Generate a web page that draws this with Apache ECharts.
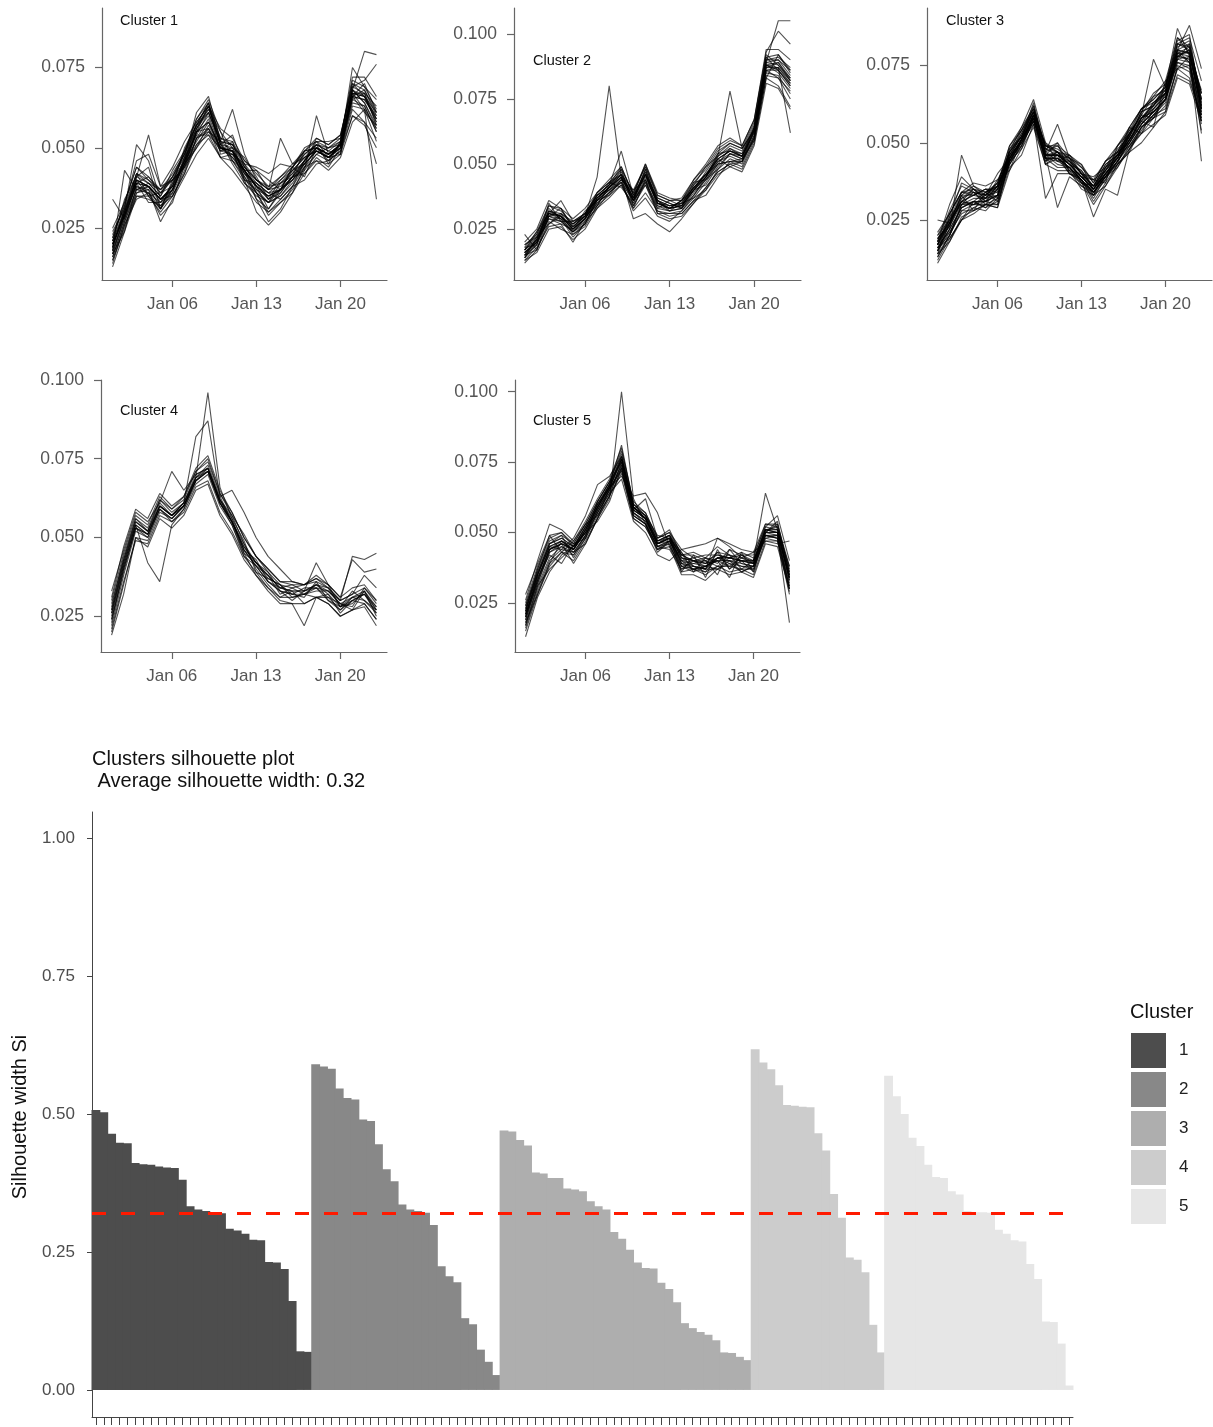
<!DOCTYPE html>
<html><head><meta charset="utf-8">
<script src="https://cdn.jsdelivr.net/npm/echarts@6/dist/echarts.min.js"></script>
<style>html,body{margin:0;padding:0;background:#fff}#chart{width:1213px;height:1427px}</style>
</head><body><div id="chart"></div>
<script>
// ---------- data ----------
const days = [1,2,3,4,5,6,7,8,9,10,11,12,13,14,15,16,17,18,19,20,21,22,23];
const dateTickDays = [6, 13, 20];
const dateTickLabels = ['Jan 06', 'Jan 13', 'Jan 20'];

const cluster1 = [
[.020,.030,.040,.035,.031,.039,.049,.057,.064,.052,.049,.043,.036,.033,.037,.044,.049,.050,.046,.052,.070,.068,.060],
[.016,.027,.036,.038,.034,.035,.042,.053,.055,.049,.052,.040,.039,.036,.034,.038,.046,.051,.049,.048,.066,.061,.057],
[.022,.033,.044,.040,.037,.042,.048,.059,.065,.055,.050,.047,.041,.034,.040,.043,.045,.053,.051,.054,.069,.067,.063],
[.014,.026,.034,.036,.029,.033,.045,.051,.054,.047,.048,.043,.034,.031,.036,.041,.042,.047,.044,.050,.064,.063,.055],
[.034,.028,.039,.041,.036,.040,.044,.050,.055,.052,.045,.039,.036,.030,.033,.036,.044,.046,.043,.047,.058,.062,.052],
[.018,.043,.037,.038,.033,.036,.047,.056,.063,.051,.054,.044,.040,.038,.039,.043,.047,.049,.047,.051,.067,.066,.058],
[.019,.031,.051,.046,.034,.037,.046,.055,.058,.050,.047,.042,.038,.034,.036,.041,.045,.049,.047,.050,.068,.064,.056],
[.021,.030,.041,.054,.038,.040,.044,.053,.059,.049,.048,.045,.037,.035,.037,.040,.046,.052,.047,.051,.066,.070,.061],
[.017,.024,.038,.037,.027,.034,.041,.048,.053,.047,.043,.038,.033,.030,.034,.038,.040,.045,.046,.049,.060,.058,.053],
[.023,.032,.046,.048,.038,.044,.052,.058,.063,.056,.053,.046,.043,.037,.041,.044,.050,.052,.052,.053,.071,.069,.065],
[.015,.026,.035,.034,.032,.035,.043,.053,.056,.049,.050,.043,.038,.036,.037,.040,.044,.050,.047,.050,.065,.067,.057],
[.020,.029,.039,.038,.034,.038,.047,.061,.066,.052,.062,.048,.040,.037,.038,.042,.046,.050,.048,.051,.068,.066,.059],
[.018,.028,.037,.039,.035,.043,.049,.057,.062,.053,.051,.045,.044,.042,.045,.044,.048,.051,.050,.052,.066,.065,.060],
[.024,.031,.042,.039,.037,.040,.046,.052,.058,.050,.049,.044,.040,.037,.053,.045,.047,.049,.047,.050,.063,.062,.056],
[.016,.027,.037,.036,.031,.036,.044,.055,.063,.051,.046,.041,.036,.029,.033,.037,.043,.060,.048,.050,.067,.066,.058],
[.019,.030,.042,.035,.036,.038,.050,.057,.064,.048,.049,.039,.035,.033,.039,.041,.043,.048,.050,.051,.075,.069,.062],
[.021,.034,.041,.039,.035,.041,.047,.054,.061,.051,.047,.043,.038,.031,.037,.043,.047,.051,.045,.052,.068,.080,.079],
[.017,.028,.039,.033,.033,.039,.045,.055,.058,.050,.049,.040,.037,.033,.035,.040,.045,.049,.047,.048,.069,.071,.076],
[.020,.029,.039,.038,.031,.037,.046,.058,.063,.051,.050,.042,.039,.034,.037,.041,.049,.050,.048,.051,.067,.062,.034],
[.015,.025,.036,.037,.032,.037,.045,.054,.054,.050,.048,.041,.034,.027,.031,.038,.044,.048,.046,.049,.062,.058,.045],
[.022,.032,.042,.040,.036,.041,.049,.059,.064,.053,.052,.045,.040,.037,.040,.044,.049,.052,.050,.053,.072,.072,.066],
[.018,.029,.040,.038,.034,.037,.045,.050,.057,.050,.049,.042,.036,.033,.035,.039,.045,.049,.047,.051,.065,.063,.055],
[.013,.024,.035,.035,.030,.035,.042,.051,.056,.047,.046,.040,.030,.026,.030,.036,.042,.046,.045,.048,.060,.057,.050],
[.025,.033,.044,.041,.037,.041,.048,.057,.061,.052,.051,.046,.042,.038,.041,.045,.049,.053,.051,.054,.070,.066,.061],
[.019,.030,.040,.038,.034,.038,.046,.056,.062,.055,.046,.043,.038,.035,.037,.041,.046,.050,.048,.051,.067,.067,.059],
[.020,.029,.038,.036,.033,.037,.045,.055,.056,.050,.049,.043,.038,.035,.037,.044,.041,.050,.048,.051,.066,.065,.059],
[.017,.029,.041,.044,.031,.040,.048,.056,.061,.052,.051,.044,.039,.036,.039,.042,.048,.051,.049,.052,.068,.064,.057],
[.021,.031,.040,.038,.034,.038,.046,.055,.060,.050,.049,.043,.043,.040,.037,.041,.046,.050,.048,.051,.066,.068,.061]
];

const cluster2 = [
[.016,.020,.031,.030,.025,.029,.037,.041,.045,.036,.048,.035,.034,.034,.041,.045,.052,.055,.053,.063,.088,.089,.082],
[.014,.022,.027,.031,.024,.027,.036,.043,.041,.035,.044,.036,.032,.035,.037,.043,.050,.051,.051,.061,.086,.086,.080],
[.018,.019,.035,.028,.028,.030,.034,.042,.049,.038,.046,.037,.035,.033,.042,.049,.053,.057,.055,.065,.091,.092,.085],
[.023,.017,.030,.033,.025,.032,.036,.038,.044,.040,.044,.033,.036,.034,.043,.044,.048,.054,.052,.059,.087,.089,.083],
[.015,.021,.032,.031,.027,.030,.045,.080,.045,.036,.042,.033,.032,.033,.039,.044,.051,.054,.052,.063,.088,.086,.081],
[.013,.018,.026,.027,.020,.028,.033,.039,.043,.033,.039,.032,.031,.032,.037,.040,.048,.052,.050,.060,.084,.083,.075],
[.017,.024,.031,.036,.028,.031,.038,.042,.055,.038,.047,.036,.033,.036,.040,.045,.054,.055,.053,.064,.090,.091,.087],
[.016,.020,.030,.029,.024,.029,.036,.040,.045,.029,.031,.027,.024,.029,.035,.041,.047,.050,.051,.060,.085,.084,.077],
[.019,.023,.034,.032,.027,.031,.039,.043,.048,.039,.050,.038,.036,.036,.043,.048,.055,.058,.056,.066,.093,.101,.096],
[.012,.017,.028,.025,.023,.027,.034,.038,.042,.033,.044,.031,.031,.031,.036,.038,.045,.051,.049,.059,.083,.080,.072],
[.017,.022,.032,.030,.026,.030,.037,.041,.046,.037,.048,.036,.034,.035,.041,.046,.052,.055,.054,.064,.089,.105,.105],
[.015,.019,.029,.028,.024,.029,.035,.039,.044,.035,.045,.035,.033,.036,.042,.046,.052,.049,.051,.060,.087,.087,.062],
[.016,.021,.031,.030,.025,.029,.038,.042,.047,.037,.046,.035,.033,.034,.040,.045,.053,.078,.056,.063,.089,.090,.084],
[.014,.020,.030,.028,.024,.028,.035,.039,.043,.032,.037,.030,.028,.032,.038,.044,.050,.056,.053,.062,.088,.085,.079],
[.020,.025,.036,.033,.029,.033,.039,.043,.046,.040,.049,.038,.036,.037,.044,.050,.057,.060,.057,.067,.092,.088,.083],
[.015,.017,.027,.030,.023,.026,.034,.041,.048,.034,.043,.032,.030,.031,.036,.041,.047,.050,.048,.058,.083,.092,.086],
[.017,.023,.033,.029,.027,.031,.038,.040,.044,.039,.049,.037,.035,.033,.040,.047,.054,.058,.056,.063,.091,.086,.080],
[.013,.016,.025,.026,.021,.025,.033,.037,.042,.034,.042,.031,.029,.030,.035,.040,.046,.049,.047,.057,.081,.079,.071],
[.018,.024,.034,.033,.026,.030,.039,.044,.049,.038,.050,.039,.037,.036,.044,.049,.056,.059,.057,.067,.094,.094,.090],
[.016,.020,.029,.027,.025,.029,.036,.041,.045,.036,.046,.035,.033,.034,.040,.042,.049,.054,.053,.062,.086,.087,.081],
[.014,.019,.030,.031,.028,.031,.036,.040,.043,.036,.043,.034,.033,.036,.041,.046,.050,.051,.052,.061,.086,.083,.078],
[.019,.022,.032,.030,.026,.030,.038,.042,.046,.037,.047,.036,.034,.035,.041,.046,.053,.056,.054,.064,.090,.090,.086],
[.015,.021,.031,.029,.022,.027,.037,.041,.046,.037,.046,.034,.032,.033,.038,.045,.051,.053,.051,.063,.089,.088,.082],
[.017,.021,.031,.030,.025,.030,.037,.041,.045,.036,.046,.035,.033,.034,.040,.045,.052,.055,.053,.063,.088,.087,.082]
];

const cluster3 = [
[.017,.024,.031,.030,.033,.036,.046,.052,.060,.044,.047,.041,.040,.033,.042,.046,.053,.058,.063,.066,.078,.080,.062],
[.014,.018,.025,.031,.029,.031,.043,.049,.057,.045,.042,.042,.036,.034,.038,.046,.049,.055,.058,.064,.076,.074,.057],
[.020,.027,.034,.033,.035,.032,.048,.054,.062,.049,.048,.045,.042,.037,.044,.047,.055,.061,.064,.068,.082,.081,.066],
[.011,.018,.026,.028,.030,.029,.041,.048,.055,.043,.046,.040,.038,.031,.037,.043,.048,.054,.059,.061,.074,.075,.054],
[.025,.024,.031,.035,.032,.036,.045,.051,.059,.047,.056,.045,.040,.036,.041,.045,.051,.057,.061,.065,.079,.081,.064],
[.016,.022,.046,.036,.033,.034,.045,.051,.058,.045,.044,.042,.037,.034,.040,.044,.051,.056,.062,.066,.080,.076,.060],
[.018,.030,.039,.035,.031,.033,.047,.052,.060,.046,.047,.043,.039,.036,.043,.046,.052,.060,.062,.067,.077,.082,.063],
[.015,.022,.029,.031,.034,.037,.049,.055,.064,.050,.047,.043,.039,.035,.040,.045,.051,.058,.060,.064,.078,.080,.061],
[.019,.024,.031,.033,.032,.033,.044,.050,.058,.046,.029,.039,.036,.033,.038,.044,.050,.056,.060,.064,.079,.076,.059],
[.013,.020,.028,.030,.030,.032,.043,.049,.057,.032,.040,.040,.037,.030,.036,.042,.049,.055,.059,.063,.076,.075,.057],
[.017,.023,.030,.032,.032,.035,.047,.053,.061,.048,.047,.044,.040,.036,.042,.047,.053,.059,.077,.068,.087,.078,.066],
[.016,.022,.029,.031,.031,.033,.044,.051,.059,.046,.046,.043,.039,.035,.041,.046,.052,.058,.062,.066,.080,.088,.074],
[.018,.025,.032,.034,.031,.035,.046,.050,.058,.047,.044,.044,.037,.036,.039,.047,.050,.058,.060,.064,.077,.078,.044],
[.015,.021,.029,.031,.031,.033,.045,.051,.058,.045,.045,.042,.038,.026,.035,.033,.048,.055,.059,.064,.078,.077,.053],
[.021,.027,.034,.035,.034,.036,.049,.054,.061,.049,.049,.046,.042,.038,.044,.049,.055,.061,.064,.068,.082,.084,.070],
[.014,.024,.033,.036,.034,.031,.044,.050,.056,.045,.047,.041,.038,.034,.039,.043,.047,.050,.055,.060,.072,.070,.059],
[.017,.027,.034,.037,.036,.038,.045,.053,.060,.048,.046,.044,.041,.035,.040,.045,.053,.057,.063,.066,.080,.079,.062],
[.012,.019,.025,.029,.031,.030,.042,.046,.056,.043,.041,.041,.035,.033,.036,.043,.047,.055,.058,.060,.075,.073,.056],
[.019,.023,.032,.035,.033,.037,.047,.052,.063,.047,.049,.044,.040,.039,.042,.049,.053,.059,.065,.067,.081,.083,.064],
[.016,.019,.025,.027,.030,.029,.045,.051,.059,.046,.050,.040,.039,.038,.037,.049,.054,.061,.065,.070,.084,.079,.061],
[.018,.023,.031,.030,.031,.036,.045,.051,.062,.046,.046,.043,.041,.036,.041,.046,.051,.058,.061,.066,.079,.079,.063],
[.015,.024,.033,.028,.034,.036,.044,.051,.058,.045,.045,.042,.038,.034,.039,.044,.050,.056,.060,.064,.077,.076,.058],
[.017,.026,.031,.033,.035,.034,.048,.052,.060,.049,.047,.045,.040,.036,.043,.046,.054,.058,.062,.069,.080,.079,.067],
[.014,.020,.030,.034,.030,.035,.044,.050,.057,.050,.044,.046,.043,.034,.039,.044,.049,.053,.058,.062,.074,.071,.058],
[.020,.025,.034,.034,.033,.037,.047,.055,.061,.048,.050,.045,.043,.037,.044,.047,.053,.061,.063,.067,.084,.081,.066],
[.016,.020,.030,.031,.029,.033,.043,.051,.057,.046,.043,.042,.038,.033,.040,.043,.053,.059,.058,.066,.082,.080,.060],
[.018,.028,.036,.034,.033,.040,.045,.051,.059,.046,.046,.043,.039,.035,.040,.045,.055,.053,.061,.065,.079,.078,.061],
[.013,.020,.028,.028,.030,.030,.044,.048,.058,.043,.045,.040,.038,.032,.039,.042,.048,.053,.056,.059,.071,.069,.057],
[.017,.021,.027,.029,.028,.032,.046,.052,.059,.046,.046,.043,.039,.035,.040,.045,.051,.057,.055,.070,.074,.078,.062],
[.019,.024,.033,.033,.035,.035,.046,.054,.060,.049,.047,.046,.040,.038,.041,.048,.052,.060,.062,.068,.080,.082,.064],
[.015,.026,.037,.035,.032,.038,.041,.051,.058,.045,.045,.042,.038,.034,.039,.044,.050,.056,.060,.064,.078,.077,.059],
[.017,.025,.030,.030,.032,.036,.045,.049,.059,.044,.046,.045,.037,.035,.042,.045,.052,.060,.066,.069,.083,.085,.061]
];

const cluster4 = [
[.026,.042,.055,.052,.061,.057,.060,.068,.072,.062,.055,.047,.042,.037,.035,.031,.032,.035,.034,.028,.033,.030,.027],
[.022,.038,.052,.050,.059,.055,.059,.067,.070,.060,.054,.045,.038,.034,.031,.033,.029,.031,.031,.029,.027,.033,.025],
[.030,.045,.057,.054,.063,.059,.062,.071,.075,.064,.057,.051,.044,.040,.036,.036,.035,.038,.035,.031,.034,.035,.030],
[.019,.032,.050,.049,.058,.056,.060,.069,.096,.066,.056,.046,.041,.036,.033,.032,.032,.034,.031,.027,.030,.032,.026],
[.028,.044,.056,.052,.062,.058,.061,.082,.087,.063,.055,.047,.042,.038,.034,.033,.033,.035,.032,.028,.031,.032,.028],
[.025,.041,.054,.042,.036,.054,.059,.068,.071,.061,.055,.046,.041,.036,.033,.030,.033,.034,.030,.028,.030,.032,.027],
[.033,.046,.058,.055,.061,.071,.065,.070,.072,.062,.057,.048,.042,.038,.034,.033,.033,.035,.033,.029,.031,.033,.028],
[.024,.039,.053,.051,.060,.057,.060,.069,.073,.063,.065,.058,.050,.044,.040,.036,.035,.037,.034,.030,.044,.043,.045],
[.027,.043,.055,.052,.060,.057,.061,.069,.071,.061,.055,.046,.043,.036,.034,.035,.033,.042,.035,.028,.029,.033,.027],
[.021,.036,.049,.048,.057,.055,.058,.066,.068,.058,.052,.044,.039,.034,.030,.029,.022,.031,.029,.025,.027,.028,.022],
[.029,.043,.056,.053,.062,.059,.063,.071,.074,.064,.058,.050,.044,.040,.036,.035,.035,.037,.035,.031,.043,.039,.040],
[.023,.040,.053,.051,.059,.056,.060,.068,.071,.061,.054,.044,.041,.038,.032,.034,.032,.033,.033,.030,.032,.038,.034],
[.026,.041,.054,.051,.060,.057,.061,.070,.072,.062,.056,.049,.039,.037,.035,.032,.031,.036,.030,.027,.031,.030,.026],
[.031,.047,.059,.056,.064,.060,.063,.072,.076,.065,.058,.050,.044,.039,.035,.034,.035,.036,.034,.030,.032,.034,.030],
[.020,.035,.050,.047,.056,.053,.057,.065,.067,.057,.051,.043,.038,.033,.029,.029,.029,.031,.029,.025,.027,.029,.024],
[.027,.042,.054,.051,.060,.057,.061,.069,.072,.062,.055,.045,.042,.039,.033,.032,.034,.034,.033,.029,.028,.034,.029],
[.024,.040,.053,.050,.059,.056,.060,.068,.071,.061,.055,.048,.040,.035,.031,.031,.032,.031,.032,.026,.030,.029,.024]
];

const cluster5 = [
[.021,.034,.044,.047,.044,.051,.059,.066,.076,.059,.055,.046,.049,.043,.038,.036,.041,.042,.037,.040,.051,.050,.034],
[.018,.031,.041,.045,.042,.049,.057,.064,.073,.057,.053,.045,.044,.037,.040,.037,.043,.037,.040,.036,.049,.048,.031],
[.024,.037,.047,.049,.046,.053,.061,.068,.079,.061,.057,.048,.051,.042,.043,.041,.045,.042,.041,.043,.053,.052,.037],
[.015,.028,.038,.043,.040,.047,.055,.062,.100,.062,.053,.044,.045,.038,.037,.036,.038,.038,.037,.037,.048,.047,.028],
[.026,.040,.053,.051,.047,.054,.062,.069,.080,.060,.056,.047,.049,.041,.040,.039,.043,.042,.040,.040,.064,.051,.038],
[.019,.033,.044,.046,.039,.046,.055,.063,.072,.055,.052,.044,.047,.039,.038,.037,.048,.045,.041,.040,.052,.056,.040],
[.022,.035,.045,.044,.048,.056,.067,.070,.077,.058,.062,.048,.050,.042,.042,.040,.042,.041,.040,.040,.050,.053,.036],
[.013,.027,.036,.042,.045,.050,.058,.065,.074,.057,.054,.045,.047,.040,.039,.038,.040,.040,.039,.038,.048,.049,.018],
[.028,.039,.049,.050,.045,.052,.060,.066,.075,.058,.055,.046,.048,.039,.037,.038,.041,.040,.040,.039,.050,.054,.035],
[.020,.032,.043,.046,.044,.050,.059,.067,.081,.060,.056,.047,.049,.041,.040,.039,.041,.041,.040,.039,.051,.052,.033],
[.017,.030,.040,.044,.043,.049,.057,.065,.073,.056,.053,.043,.047,.038,.036,.038,.037,.040,.036,.038,.049,.048,.030],
[.023,.036,.046,.048,.045,.052,.060,.067,.077,.059,.056,.049,.048,.042,.040,.041,.039,.044,.042,.040,.051,.050,.035],
[.021,.033,.044,.046,.044,.050,.058,.066,.070,.063,.064,.057,.045,.035,.035,.033,.037,.035,.036,.034,.046,.045,.030],
[.020,.034,.042,.039,.046,.048,.057,.064,.069,.054,.050,.042,.040,.044,.045,.046,.048,.046,.044,.043,.047,.046,.047],
[.022,.035,.045,.047,.044,.051,.059,.066,.076,.059,.055,.046,.048,.036,.042,.034,.044,.037,.042,.039,.051,.050,.034],
[.016,.029,.039,.043,.042,.048,.056,.063,.071,.055,.052,.044,.046,.036,.037,.035,.038,.036,.037,.035,.047,.047,.029],
[.025,.038,.048,.050,.046,.053,.061,.068,.078,.060,.057,.048,.050,.044,.041,.042,.042,.041,.043,.041,.053,.053,.038],
[.019,.032,.043,.045,.043,.049,.058,.065,.074,.057,.054,.046,.047,.038,.039,.040,.035,.044,.039,.038,.050,.049,.032],
[.022,.037,.049,.043,.047,.053,.056,.063,.075,.058,.055,.046,.048,.040,.037,.038,.040,.038,.041,.039,.050,.050,.034],
[.021,.033,.044,.046,.044,.051,.059,.066,.076,.059,.055,.046,.048,.043,.036,.041,.040,.034,.043,.036,.051,.051,.034],
[.018,.028,.039,.047,.043,.046,.055,.066,.072,.056,.053,.045,.047,.041,.038,.037,.041,.039,.036,.038,.049,.049,.031],
[.024,.036,.046,.048,.045,.052,.060,.067,.077,.059,.056,.047,.049,.039,.040,.040,.038,.041,.042,.042,.052,.051,.036],
[.020,.035,.046,.049,.041,.048,.061,.068,.075,.058,.055,.046,.048,.040,.041,.039,.040,.040,.038,.037,.050,.050,.033],
[.023,.035,.045,.047,.045,.051,.059,.067,.076,.059,.055,.047,.048,.042,.040,.038,.041,.041,.040,.039,.051,.051,.035],
[.017,.031,.037,.041,.045,.050,.054,.061,.073,.056,.053,.045,.046,.037,.038,.037,.037,.039,.038,.038,.049,.048,.030]
];

const silhouette1 = [0.507,0.503,0.464,0.448,0.447,0.411,0.409,0.408,0.405,0.403,0.402,0.381,0.333,0.327,0.324,0.321,0.320,0.292,0.289,0.283,0.272,0.271,0.232,0.231,0.219,0.161,0.070,0.069];
const silhouette2 = [0.590,0.586,0.582,0.546,0.529,0.526,0.490,0.487,0.445,0.400,0.378,0.336,0.327,0.324,0.321,0.299,0.224,0.206,0.195,0.130,0.119,0.073,0.051,0.027];
const silhouette3 = [0.470,0.468,0.453,0.443,0.394,0.392,0.384,0.384,0.365,0.363,0.360,0.342,0.333,0.327,0.286,0.274,0.254,0.231,0.221,0.220,0.194,0.183,0.159,0.121,0.112,0.105,0.100,0.090,0.068,0.067,0.060,0.054];
const silhouette4 = [0.617,0.593,0.581,0.552,0.516,0.515,0.513,0.512,0.465,0.434,0.355,0.312,0.240,0.236,0.213,0.118,0.068];
const silhouette5 = [0.569,0.532,0.500,0.457,0.442,0.408,0.386,0.384,0.360,0.354,0.324,0.322,0.322,0.321,0.290,0.283,0.271,0.269,0.228,0.201,0.124,0.123,0.084,0.008];
const avgSilhouette = 0.318;
const silTicks = [0, 0.25, 0.5, 0.75, 1];
const clusterNames = ['1', '2', '3', '4', '5'];
const clusterColors = ['#4d4d4d', '#888888', '#aeaeae', '#cccccc', '#e6e6e6'];

// ---------- layout ----------
const FONT = '"Liberation Sans", Arial, sans-serif';
const panels = [
  { title: 'Cluster 1', data: cluster1, left: 102, top: 8, width: 285, height: 272, ymin: 0.0089, ymax: 0.0935, ticks: [0.025, 0.05, 0.075], tx: 120, ty: 21 },
  { title: 'Cluster 2', data: cluster2, left: 514, top: 8, width: 287, height: 272, ymin: 0.0055, ymax: 0.1099, ticks: [0.025, 0.05, 0.075, 0.1], tx: 533, ty: 61 },
  { title: 'Cluster 3', data: cluster3, left: 927, top: 8, width: 285, height: 272, ymin: 0.0056, ymax: 0.0936, ticks: [0.025, 0.05, 0.075], tx: 946, ty: 21 },
  { title: 'Cluster 4', data: cluster4, left: 101, top: 380, width: 286, height: 272, ymin: 0.01365, ymax: 0.100, ticks: [0.025, 0.05, 0.075, 0.1], tx: 120, ty: 411 },
  { title: 'Cluster 5', data: cluster5, left: 515, top: 380, width: 285, height: 272, ymin: 0.00758, ymax: 0.10416, ticks: [0.025, 0.05, 0.075, 0.1], tx: 533, ty: 421 }
];

const grids = [], xAxes = [], yAxes = [], series = [], graphics = [];
const axisGrey = '#666';
panels.forEach((p, i) => {
  grids.push({ left: p.left, top: p.top, width: p.width, height: p.height });
  xAxes.push({
    type: 'value', gridIndex: i, min: 0.12, max: 23.88,
    axisLine: { show: true, onZero: false, lineStyle: { color: axisGrey, width: 1.2 } },
    axisTick: { show: true, customValues: dateTickDays, length: 7, lineStyle: { color: axisGrey, width: 1.2 } },
    axisLabel: { customValues: dateTickDays, margin: 16, color: '#555', fontSize: 17, fontFamily: FONT,
      formatter: v => dateTickLabels[dateTickDays.indexOf(v)] || '' },
    splitLine: { show: false }
  });
  yAxes.push({
    type: 'value', gridIndex: i, min: p.ymin, max: p.ymax,
    axisLine: { show: true, lineStyle: { color: axisGrey, width: 1.2 } },
    axisTick: { show: true, customValues: p.ticks, length: 7, lineStyle: { color: axisGrey, width: 1.2 } },
    axisLabel: { customValues: p.ticks, margin: 17, color: '#555', fontSize: 17.5, fontFamily: FONT,
      formatter: v => v.toFixed(3) },
    splitLine: { show: false }
  });
  p.data.forEach(line => {
    series.push({
      type: 'line', xAxisIndex: i, yAxisIndex: i, showSymbol: false, silent: true,
      data: days.map((d, k) => [d, line[k]]),
      lineStyle: { color: 'rgba(0,0,0,0.68)', width: 1.1 }
    });
  });
  graphics.push({ type: 'text', left: p.tx, top: p.ty - 8,
    style: { text: p.title, fill: '#111', font: '14.5px ' + FONT } });
});

// ---------- silhouette ----------
const silGroups = [silhouette1, silhouette2, silhouette3, silhouette4, silhouette5];
const totalBars = silGroups.reduce((a, g) => a + g.length, 0);
const barCats = [];
for (let i = 1; i <= totalBars; i++) barCats.push(String(i));
const gi = panels.length;
grids.push({ left: 92, top: 812, width: 981, height: 605 });
xAxes.push({
  type: 'category', gridIndex: gi, data: barCats, boundaryGap: true,
  axisLine: { show: true, onZero: false, lineStyle: { color: '#444', width: 1 } },
  axisTick: { show: true, alignWithLabel: true, interval: 0, length: 8, lineStyle: { color: '#444', width: 1 } },
  axisLabel: { show: false }, splitLine: { show: false }
});
yAxes.push({
  type: 'value', gridIndex: gi, min: -0.049, max: 1.047,
  axisLine: { show: true, lineStyle: { color: '#444', width: 1 } },
  axisTick: { show: true, customValues: silTicks, length: 5, lineStyle: { color: '#444' } },
  axisLabel: { customValues: silTicks, margin: 17, color: '#4d4d4d', fontSize: 17, fontFamily: FONT,
    formatter: v => v.toFixed(2) },
  splitLine: { show: false }
});
let offset = 0;
silGroups.forEach((g, c) => {
  const color = clusterColors[c];
  const items = g.map((v, k) => [offset + k, v]);
  offset += g.length;
  series.push({
    type: 'custom', name: clusterNames[c], xAxisIndex: gi, yAxisIndex: gi, silent: true,
    data: items, encode: { x: 0, y: 1 }, itemStyle: { color: color },
    renderItem: (params, api) => {
      const idx = api.value(0), v = api.value(1);
      const top = api.coord([idx, v]);
      const base = api.coord([idx, 0]);
      const w = api.size([1, 0])[0];
      return { type: 'rect',
        shape: { x: top[0] - w / 2 - 0.5, y: top[1], width: w + 1, height: base[1] - top[1] },
        style: { fill: color } };
    }
  });
});
// average silhouette reference line
series.push({
  type: 'line', name: 'avg', xAxisIndex: gi, yAxisIndex: gi, silent: true,
  data: new Array(totalBars).fill(null), showSymbol: false, lineStyle: { opacity: 0 },
  markLine: {
    silent: true, symbol: ['none', 'none'], label: { show: false },
    lineStyle: { color: '#ff1a00', type: [14, 15], width: 3, opacity: 1 },
    data: [{ yAxis: avgSilhouette }]
  }
});

graphics.push({ type: 'text', left: 92, top: 749,
  style: { text: 'Clusters silhouette plot', fill: '#111', font: '20px ' + FONT } });
graphics.push({ type: 'text', left: 92, top: 771,
  style: { text: ' Average silhouette width: 0.32', fill: '#111', font: '20px ' + FONT } });
graphics.push({ type: 'text', x: 20, y: 1117, rotation: Math.PI / 2,
  style: { text: 'Silhouette width Si', fill: '#111', font: '20px ' + FONT, align: 'center', verticalAlign: 'middle' } });
graphics.push({ type: 'text', left: 1130, top: 1002,
  style: { text: 'Cluster', fill: '#111', font: '20px ' + FONT } });

const chart = echarts.init(document.getElementById('chart'), null, { renderer: 'canvas' });
chart.setOption({
  animation: false,
  backgroundColor: '#fff',
  grid: grids, xAxis: xAxes, yAxis: yAxes, series: series, graphic: graphics,
  legend: {
    data: clusterNames.map((n, c) => ({ name: n, itemStyle: { color: clusterColors[c] } })),
    orient: 'vertical', left: 1131, top: 1033, padding: 0,
    icon: 'rect', itemWidth: 35, itemHeight: 35, itemGap: 4,
    textStyle: { fontSize: 17, color: '#222', fontFamily: FONT, padding: [0, 0, 0, 8] },
    selectedMode: false
  }
});
</script></body></html>
